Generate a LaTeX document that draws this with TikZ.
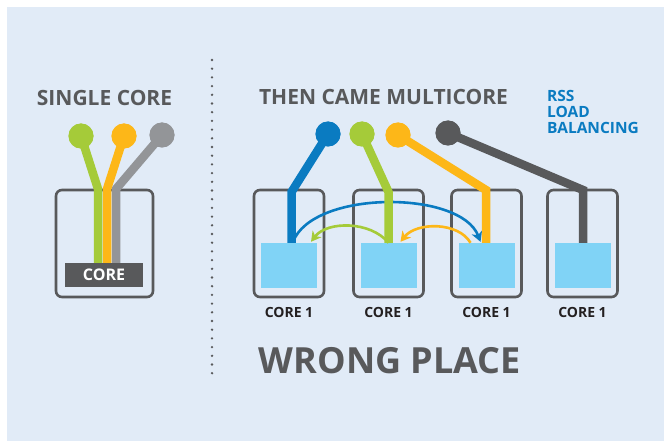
\documentclass[tikz,border=0pt]{standalone}
\usepackage{fontspec}
\setmainfont{Open Sans}
\usetikzlibrary{arrows.meta,calc}
\definecolor{bg}{HTML}{E1EBF7}
\definecolor{ink}{HTML}{58595B}
\definecolor{rssblue}{HTML}{0A7BC1}
\definecolor{lime}{HTML}{A5CB39}
\definecolor{amber}{HTML}{FDB718}
\definecolor{silver}{HTML}{939598}
\definecolor{cachefill}{HTML}{80D3F6}
\definecolor{labelink}{HTML}{231F20}
\begin{document}
\begin{tikzpicture}[x=1pt,y=-1pt,
  ball/.style={circle,inner sep=0pt,minimum size=25pt,fill=#1},
  wire/.style={draw=#1,line width=8.5pt,line join=miter,line cap=butt},
  corebox/.style={draw=ink,line width=2.6pt,rounded corners=6pt,inner sep=0pt,
    minimum width=70pt,minimum height=107pt},
  cachebox/.style={fill=cachefill,inner sep=0pt,minimum width=56pt,minimum height=45pt},
  hop/.style={draw=#1,line width=2.6pt,-{Stealth[length=10pt,width=11pt,inset=3pt]}},
  heading/.style={text=ink,font=\bfseries\fontsize{21}{25}\selectfont,inner sep=0pt},
  corelabel/.style={text=labelink,font=\bfseries\fontsize{14}{16}\selectfont,inner sep=0pt,anchor=base},
  rsstext/.style={text=rssblue,font=\bfseries\fontsize{15.5}{16}\selectfont,inner sep=0pt,anchor=base west}]

\useasboundingbox (0,0) rectangle (664,441);
\fill[white] (0,0) rectangle (664,441);
\fill[bg] (7,7) rectangle (664,441);

% divider
\draw[ink,line width=2.6pt,line cap=round,dash pattern=on 0pt off 8.7pt] (212,60) -- (212,374);

% ---------- single core ----------
\node[heading] (single) at (104.5,97.5) {SINGLE CORE};
\node[corebox,minimum width=97pt] (sbox) at (104.5,243.5) {};
\node[fill=ink,inner sep=0pt,minimum width=78pt,minimum height=24pt,
      text=white,font=\bfseries\fontsize{16}{18}\selectfont] (bar) at (104,275) {CORE};

\coordinate (sgbend) at (98,189);
\coordinate (sobend) at (107,189);
\coordinate (ssbend) at (116,189);
\node[ball=lime]   (sg) at (81,136) {};
\node[ball=amber]  (so) at (124,136) {};
\node[ball=silver] (ss) at (162,135) {};
\draw[wire=silver] (ss.center) -- (ssbend) -- (ssbend |- bar.north);
\draw[wire=amber]  (so.center) -- (sobend) -- (sobend |- bar.north);
\draw[wire=lime]   (sg.center) -- (sgbend) -- (sgbend |- bar.north);
\node[ball=lime]   at (sg) {};
\node[ball=amber]  at (so) {};
\node[ball=silver] at (ss) {};

% ---------- multicore ----------
\node[heading] (multi) at (383.5,97) {THEN CAME MULTICORE};
\node[rsstext] (rss1) at (547,101.7) {RSS};
\node[rsstext] (rss2) at (547,117.7) {LOAD};
\node[rsstext] (rss3) at (547,133.7) {BALANCING};

\foreach \i/\x in {1/289,2/388.5,3/486.5,4/582.5}{
  \node[corebox] (b\i) at (\x,243.5) {};
  \node[cachebox] (c\i) at (\x,265.5) {};
  \node[corelabel] (l\i) at (\x,317) {CORE 1};
}

\node[ball=rssblue] (mb) at (328,134) {};
\node[ball=lime]    (mg) at (362,134) {};
\node[ball=amber]   (mo) at (398,135) {};
\node[ball=ink]     (md) at (448,133) {};
\coordinate (mbbend) at (291.5,192);
\coordinate (mgbend) at (388.5,192);
\coordinate (mobend) at (486,190);
\coordinate (mdbend) at (583,190);

% packets bouncing between cores
\draw[hop=rssblue] ($(c1.north)+(4,-1)$) .. controls ($(c1.north)+(24,-53)$) and ($(c3.north)+(-26,-53)$) .. ($(c3.north)+(-6,-1)$);
\draw[hop=lime] (c2.north) .. controls ($(c2.north)+(-18,-22)$) and ($(c1.north)+(38,-22)$) .. ($(c1.north)+(22,-1)$);
\draw[hop=amber] ($(c3.north)+(-16,0)$) .. controls ($(c3.north)+(-28,-21)$) and ($(c2.north)+(28,-21)$) .. ($(c2.north)+(12,-1)$);

\draw[wire=rssblue] (mb.center) -- (mbbend) -- (mbbend |- c1.north);
\draw[wire=lime]    (mg.center) -- (mgbend) -- (mgbend |- c2.north);
\draw[wire=amber]   (mo.center) -- (mobend) -- (mobend |- c3.north);
\draw[wire=ink]     (md.center) -- (mdbend) -- (mdbend |- c4.north);
\node[ball=rssblue] at (mb) {};
\node[ball=lime]    at (mg) {};
\node[ball=amber]   at (mo) {};
\node[ball=ink]     at (md) {};

\node[text=ink,font=\bfseries\fontsize{36}{40}\selectfont,inner sep=0pt,anchor=base] (wrong) at (390,373) {WRONG PLACE};
\end{tikzpicture}
\end{document}
